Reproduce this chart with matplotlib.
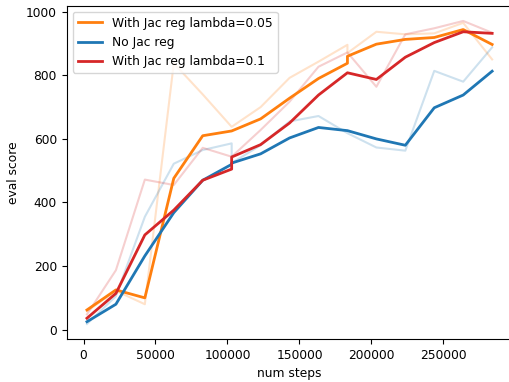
import matplotlib
matplotlib.use("Agg")
import matplotlib.pyplot as plt

steps = [2400, 22500, 42600, 62700, 82800, 102900, 102900, 123000, 143100,
         163200, 183300, 183300, 203400, 223500, 243600, 263700, 283800]

# With Jac reg lambda=0.05
jac005_smooth = [62, 125, 100, 476, 610, 625, 625, 663, 728, 790, 838, 860, 898, 913, 919, 944, 897]
jac005_raw = [58, 122, 80, 838, 740, 638, 638, 700, 792, 843, 896, 870, 937, 929, 932, 965, 850]

# No Jac reg
nojac_smooth = [25, 80, 232, 368, 470, 520, 524, 553, 603, 636, 626, 626, 600, 580, 698, 738, 813]
nojac_raw = [18, 105, 355, 522, 565, 586, 524, 580, 655, 672, 618, 618, 573, 563, 814, 780, 888]

# With Jac reg lambda=0.1
jac01_smooth = [36, 114, 298, 376, 470, 505, 543, 582, 650, 738, 808, 808, 787, 857, 903, 937, 932]
jac01_raw = [48, 187, 472, 455, 572, 544, 544, 628, 717, 827, 872, 872, 764, 929, 948, 971, 934]

labels = ["With Jac reg lambda=0.05", "No Jac reg", "With Jac reg lambda=0.1"]
colors = ["tab:orange", "tab:blue", "tab:red"]

plt.rcParams["font.size"] = 8.8

W, H = 509, 382
fig = plt.figure(figsize=(W / 100, H / 100), dpi=100)
ax_left = 66.7 / W
ax_bottom = 1 - 339.2 / H
ax_width = 445.7 / W
ax_height = (339.2 - 5.7) / H
ax = fig.add_axes([ax_left, ax_bottom, ax_width, ax_height])

series = [(jac005_smooth, jac005_raw), (nojac_smooth, nojac_raw), (jac01_smooth, jac01_raw)]
for (sm, raw), lab, c in zip(series, labels, colors):
    ax.plot(steps, raw, color=c, alpha=0.22, lw=1.5)
for (sm, raw), lab, c in zip(series, labels, colors):
    ax.plot(steps, sm, color=c, lw=2, label=lab)

ax.set_xlim(-11670, 297870)
ax.set_ylim(-30, 1019)
ax.set_xticks([0, 50000, 100000, 150000, 200000, 250000])
ax.set_yticks([0, 200, 400, 600, 800, 1000])
ax.set_xlabel("num steps")
ax.set_ylabel("eval score")
ax.legend(loc="upper left")

fig.savefig("out.png", dpi=100)
